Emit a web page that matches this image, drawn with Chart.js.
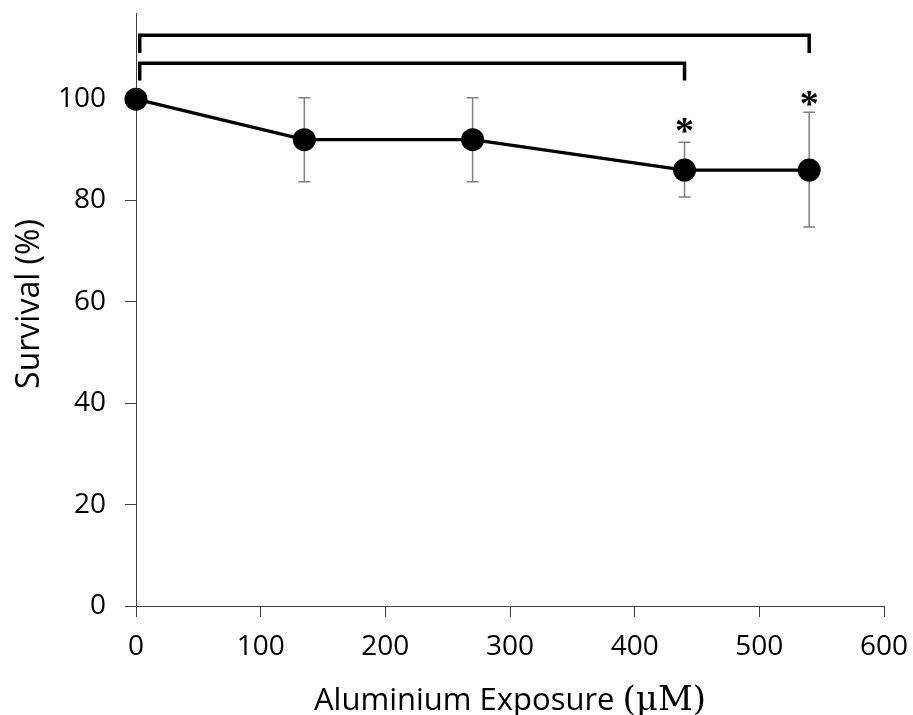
<!DOCTYPE html>
<html>
<head>
<meta charset="utf-8">
<script src="https://cdn.jsdelivr.net/npm/chart.js@4/dist/chart.umd.min.js"></script>
<style>
  html, body { margin: 0; padding: 0; background: #ffffff; }
  canvas { display: block; }
</style>
</head>
<body>
<canvas id="c" width="913" height="715"></canvas>
<script>
// ---- data ----
const doses = [0, 135, 270, 440, 540];          // Aluminium exposure (µM)
const survival = [100, 92, 92, 86, 86];          // Survival (%)
const errUp = [0, 8.3, 8.3, 5.5, 11.4];          // error bar above mean
const errDown = [0, 8.3, 8.3, 5.3, 11.2];        // error bar below mean
const xTicks = [0, 100, 200, 300, 400, 500, 600];
const yTicks = [0, 20, 40, 60, 80, 100];
// significance brackets (data units)
const bracketFrom = [3, 3];
const bracketTo = [540, 440];
const bracketLevel = [112.6, 107.1];
const bracketEndLevel = [109.1, 103.7];
// asterisks
const starX = [440, 540];
const starY = [94.9, 100.4];

const xTitle = 'Aluminium Exposure ';
const xTitleUnit = '(\u03BCM)';
const yTitle = 'Survival (%)';

const overlay = {
  id: 'overlay',
  beforeDatasetsDraw(chart) {
    const ctx = chart.ctx, xs = chart.scales.x, ys = chart.scales.y;
    ctx.save();
    ctx.strokeStyle = '#808080';
    ctx.lineWidth = 1.5;
    doses.forEach((d, i) => {
      if (errUp[i] === 0 && errDown[i] === 0) return;
      const px = xs.getPixelForValue(d);
      const top = ys.getPixelForValue(survival[i] + errUp[i]);
      const bot = ys.getPixelForValue(survival[i] - errDown[i]);
      ctx.beginPath();
      ctx.moveTo(px, top); ctx.lineTo(px, bot);
      ctx.moveTo(px - 6, top); ctx.lineTo(px + 6, top);
      ctx.moveTo(px - 6, bot); ctx.lineTo(px + 6, bot);
      ctx.stroke();
    });
    ctx.restore();
  },
  afterDraw(chart) {
    const ctx = chart.ctx, xs = chart.scales.x, ys = chart.scales.y;
    const area = chart.chartArea;
    ctx.save();
    // brackets
    ctx.strokeStyle = '#000000';
    ctx.lineWidth = 3.5;
    ctx.lineCap = 'butt';
    ctx.lineJoin = 'miter';
    bracketFrom.forEach((f, i) => {
      const x1 = xs.getPixelForValue(f), x2 = xs.getPixelForValue(bracketTo[i]);
      const yl = ys.getPixelForValue(bracketLevel[i]);
      const ye = ys.getPixelForValue(bracketEndLevel[i]);
      ctx.beginPath();
      ctx.moveTo(x1, ye); ctx.lineTo(x1, yl); ctx.lineTo(x2, yl); ctx.lineTo(x2, ye);
      ctx.stroke();
    });
    // asterisks
    ctx.fillStyle = '#000000';
    const starSize = 38;
    ctx.font = 'bold ' + starSize + 'px "Liberation Serif"';
    ctx.textAlign = 'center';
    ctx.textBaseline = 'alphabetic';
    starX.forEach((sx, i) => {
      const px = xs.getPixelForValue(sx);
      const py = ys.getPixelForValue(starY[i]);
      ctx.fillText('*', px, py + 0.485 * starSize);
    });
    // y title
    ctx.save();
    ctx.translate(30, 304);
    ctx.rotate(-Math.PI / 2);
    ctx.font = '32px "Open Sans"';
    ctx.textAlign = 'center';
    ctx.textBaseline = 'middle';
    ctx.fillText(yTitle, 0, 0);
    ctx.restore();
    // x title (sans + serif unit)
    const sansFont = '31px "Open Sans"';
    const serifFont = '34px "DejaVu Serif"';
    ctx.font = sansFont;
    const w1 = ctx.measureText(xTitle).width;
    ctx.font = serifFont;
    const w2 = ctx.measureText(xTitleUnit).width;
    const cx = (area.left + area.right) / 2;
    const start = cx - (w1 + w2) / 2;
    ctx.textAlign = 'left';
    ctx.textBaseline = 'alphabetic';
    ctx.font = sansFont;
    ctx.fillText(xTitle, start, 710);
    ctx.font = serifFont;
    ctx.fillText(xTitleUnit, start + w1, 710);
    ctx.restore();
  }
};

const axisColor = '#404040';

new Chart(document.getElementById('c'), {
  type: 'line',
  data: {
    datasets: [{
      data: doses.map((d, i) => ({ x: d, y: survival[i] })),
      borderColor: '#000000',
      borderWidth: 3.3,
      backgroundColor: '#000000',
      pointRadius: 11.5,
      pointBorderWidth: 0,
      pointBackgroundColor: '#000000',
      pointBorderColor: '#000000',
      tension: 0,
      fill: false,
      clip: false
    }]
  },
  options: {
    responsive: false,
    devicePixelRatio: 1,
    animation: false,
    layout: { padding: { top: 13, right: 29, left: 0, bottom: 0 } },
    plugins: { legend: { display: false }, tooltip: { enabled: false } },
    scales: {
      x: {
        type: 'linear',
        min: 0, max: 600,
        afterBuildTicks(scale) { scale.ticks = xTicks.map(v => ({ value: v })); },
        afterFit(scale) { scale.height = 109; scale.paddingLeft = 0; scale.paddingRight = 0; },
        ticks: {
          color: '#000000',
          font: { family: 'Open Sans', size: 28 },
          padding: 13,
          maxRotation: 0,
          autoSkip: false
        },
        grid: { drawOnChartArea: false, drawTicks: true, tickLength: 11, color: axisColor, lineWidth: 1 },
        border: { display: true, color: axisColor, width: 1 }
      },
      y: {
        type: 'linear',
        min: 0, max: 117,
        afterBuildTicks(scale) { scale.ticks = yTicks.map(v => ({ value: v })); },
        afterFit(scale) { scale.width = 136; scale.paddingTop = 0; scale.paddingBottom = 0; },
        ticks: {
          color: '#000000',
          font: { family: 'Open Sans', size: 28 },
          padding: 19
        },
        grid: { drawOnChartArea: false, drawTicks: true, tickLength: 11, color: axisColor, lineWidth: 1 },
        border: { display: true, color: axisColor, width: 1 }
      }
    }
  },
  plugins: [overlay]
});
</script>
</body>
</html>
